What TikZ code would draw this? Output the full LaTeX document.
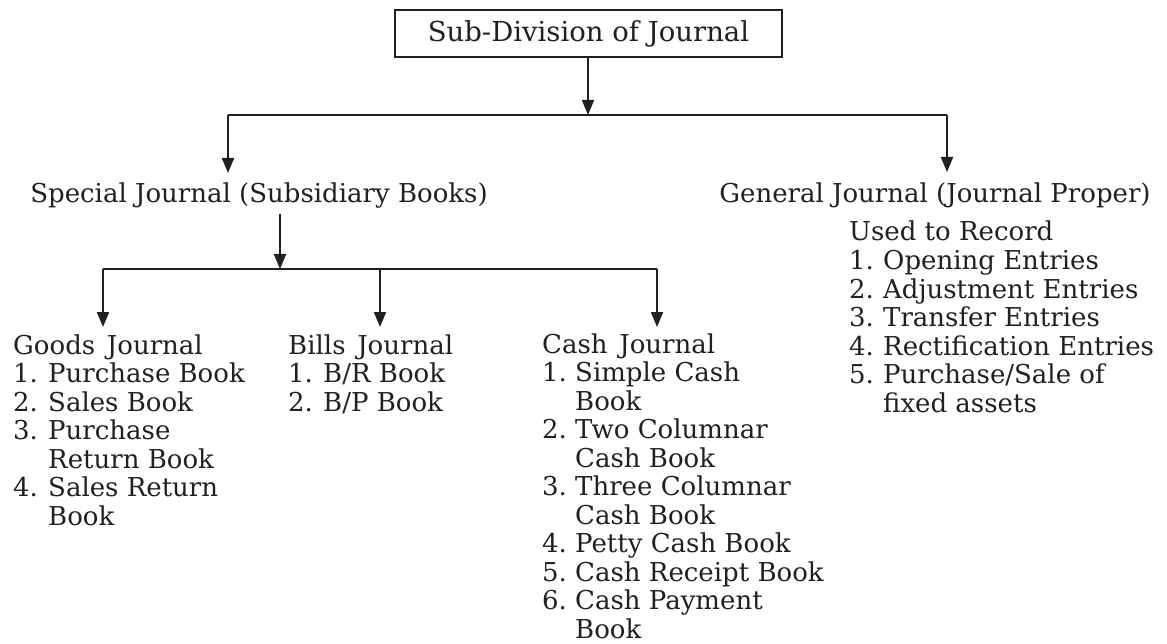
\documentclass[tikz,border=0pt]{standalone}
\usepackage{fontspec}
\setmainfont{DejaVu Serif}
\usepackage{array}
\usetikzlibrary{arrows.meta}
\definecolor{ink}{HTML}{231F20}
\newcommand{\fs}{\fontsize{26}{28.55}\selectfont}
\newcommand{\fsbig}{\fontsize{27.5}{30}\selectfont}
\newcommand{\gap}{\hspace{0.45em}}
\begin{document}
\begin{tikzpicture}[x=1pt,y=-1pt,
  ln/.style={draw=ink, line width=2pt},
  arr/.style={ln, -{Triangle[width=12pt,length=15pt]}},
  txt/.style={inner sep=0pt, text=ink, font=\fs},
  boxnode/.style={draw=ink, line width=2pt, minimum width=387pt, minimum height=47.5pt, inner sep=0pt, text=ink, font=\fsbig},
  lst/.style={txt, anchor=base west}
]
\useasboundingbox (0,0) rectangle (1167,644);
% top box
\node[boxnode] (top) at (588.5,33.75) {Sub-Division of Journal};
% level 1 headings
\node[txt, anchor=base] (sj) at (259,203) {Special Journal (Subsidiary Books)};
\node[txt, anchor=base] (gj) at (935,203) {General Journal (Journal Proper)};
% connectors level 1
\coordinate (hM) at (588,115);
\coordinate (hL) at (228,115);
\coordinate (hR) at (947,115);
\coordinate (sTip) at (228,173);
\coordinate (gTip) at (947,172);
\draw[arr] (top.south -| hM) -- (hM);
\draw[ln] (hL) -- (hR);
\draw[arr] (hL) -- (sTip);
\draw[arr] (hR) -- (gTip);
% general journal list
\node[lst] (gl) at (849,241) {\begin{tabular}[t]{@{}p{34pt}@{}l@{}}
\multicolumn{2}{@{}l@{}}{Used to Record}\\
1. & Opening Entries\\
2. & Adjustment Entries\\
3. & Transfer Entries\\
4. & Rectification Entries\\
5. & Purchase/Sale of\\
   & fixed assets
\end{tabular}};
% level 2 connectors
\coordinate (sStart) at (280,214);
\coordinate (kM) at (280,269);
\coordinate (kL) at (103,269);
\coordinate (kC) at (380,269);
\coordinate (kR) at (657,269);
\coordinate (tL) at (103,327);
\coordinate (tC) at (380,327);
\coordinate (tR) at (657,327);
\draw[arr] (sStart) -- (kM);
\draw[ln] (kL) -- (kR);
\draw[arr] (kL) -- (tL);
\draw[arr] (kC) -- (tC);
\draw[arr] (kR) -- (tR);
% goods journal
\node[lst] (goods) at (13,354) {\begin{tabular}[t]{@{}p{35pt}@{}l@{}}
\multicolumn{2}{@{}l@{}}{Goods\gap Journal}\\
1. & Purchase Book\\
2. & Sales Book\\
3. & Purchase\\
   & Return Book\\
4. & Sales Return\\
   & Book
\end{tabular}};
% bills journal
\node[lst] (bills) at (288,354) {\begin{tabular}[t]{@{}p{35pt}@{}l@{}}
\multicolumn{2}{@{}l@{}}{Bills\gap Journal}\\
1. & B/R Book\\
2. & B/P Book
\end{tabular}};
% cash journal
\node[lst] (cash) at (542,353) {\begin{tabular}[t]{@{}p{33pt}@{}l@{}}
\multicolumn{2}{@{}l@{}}{Cash\gap Journal}\\
1. & Simple Cash\\
   & Book\\
2. & Two Columnar\\
   & Cash Book\\
3. & Three Columnar\\
   & Cash Book\\
4. & Petty Cash Book\\
5. & Cash Receipt Book\\
6. & Cash Payment\\
   & Book
\end{tabular}};
\end{tikzpicture}
\end{document}
